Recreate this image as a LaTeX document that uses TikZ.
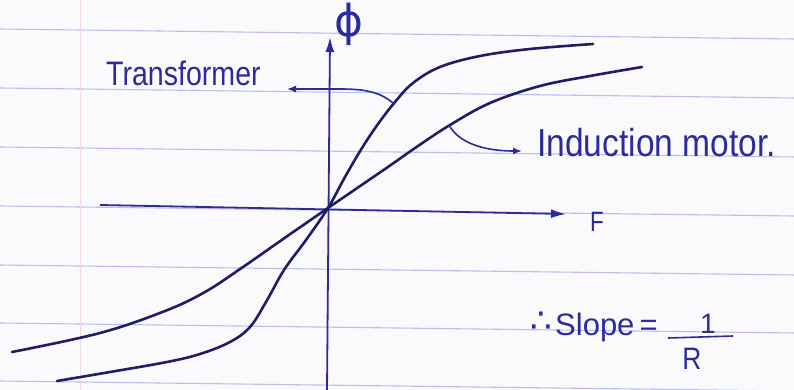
\documentclass[tikz,border=0pt]{standalone}
\usepackage{fontspec}
\setmainfont{Liberation Sans}
\newfontfamily\symfont{DejaVu Sans}
\usetikzlibrary{arrows.meta}
\definecolor{ink}{HTML}{1E1E66}
\definecolor{pen}{HTML}{2B2B9C}
\definecolor{rulecol}{HTML}{B8BEEE}
\definecolor{paper}{HTML}{FAFAFD}
\definecolor{margincol}{HTML}{F2D8E0}
\tikzset{
  ruled/.style={rulecol, line width=1.1pt},
  marginline/.style={margincol, line width=0.8pt},
  curve/.style={ink, line width=2.6pt, line cap=round, line join=round},
  axis/.style={pen, line width=1.8pt, -{Latex[length=15pt,width=9pt]}},
  pointer/.style={pen, line width=1.6pt, -{Latex[length=9pt,width=7pt]}},
  hand/.style={pen, inner sep=0pt},
}
\begin{document}
\begin{tikzpicture}[x=1pt,y=-1pt]
\useasboundingbox (0,0) rectangle (794,390);
\fill[paper] (0,0) rectangle (794,390);
% ruled paper
\foreach \y in {29,88,147,206,265,323,381}
  \draw[ruled] (0,\y) -- (794,\y+10);
\draw[marginline] (80,0) -- (80,390);

% axes
\coordinate (yb) at (327,390);
\coordinate (yt) at (330,37);
\coordinate (xl) at (100,205);
\coordinate (xr) at (566,214);
\draw[axis] (yb) -- (yt);
\draw[axis] (xl) -- (xr);
\node[hand, anchor=center] (phi) at (349,24) {\symfont\fontsize{44}{46}\selectfont ϕ};
\node[hand, anchor=base west] (F) at (590,231) {\scalebox{0.8}[1]{\fontsize{28}{30}\selectfont F}};

% transformer characteristic (steeper)
\draw[curve] plot[smooth, tension=0.6] coordinates {
  (593,44) (530,49) (480,56) (440,67) (413,83) (395,102) (378,124)
  (362,148) (345,177) (328,208) (306,240) (284,270) (266,302) (250,327)
  (230,342) (200,354) (167,362) (110,372) (57,381)};
% induction motor characteristic
\draw[curve] plot[smooth, tension=0.6] coordinates {
  (642,67) (590,76) (540,86) (490,103) (450,125) (418,146) (385,169)
  (328,208) (286,237) (243,267) (205,292) (165,311) (100,333) (12,352)};

% labels and pointers
\node[hand, anchor=base west] (trans) at (106,86)
  {\scalebox{0.84}[1]{\fontsize{34}{36}\selectfont Transformer}};
\coordinate (tA) at (394,104);
\coordinate (tH) at (287,89);
\draw[pointer] (tA) .. controls (380,91) and (362,89) .. (340,89) -- (tH);

\node[hand, anchor=base west] (im) at (537,157)
  {\scalebox{0.86}[1]{\fontsize{39}{41}\selectfont Induction motor.}};
\coordinate (iA) at (449,125);
\coordinate (iH) at (522,151);
\draw[pointer] (iA) .. controls (458,142) and (482,151) .. (iH);

% slope relation
\node[hand, anchor=base east] (ther) at (552,332) {\symfont\fontsize{34}{36}\selectfont ∴};
\node[hand, anchor=base west] (slope) at (555,335)
  {\fontsize{31}{33}\selectfont Slope\,=};
\node[hand, anchor=base] (one) at (708,333) {\fontsize{28}{30}\selectfont 1};
\node[hand, anchor=base] (R) at (692,369) {\scalebox{0.85}[1]{\fontsize{31}{33}\selectfont R}};
\coordinate (b1) at (668,338);
\coordinate (b2) at (733,336);
\draw[pen, line width=1.6pt] (b1) -- (b2);
\end{tikzpicture}
\end{document}
